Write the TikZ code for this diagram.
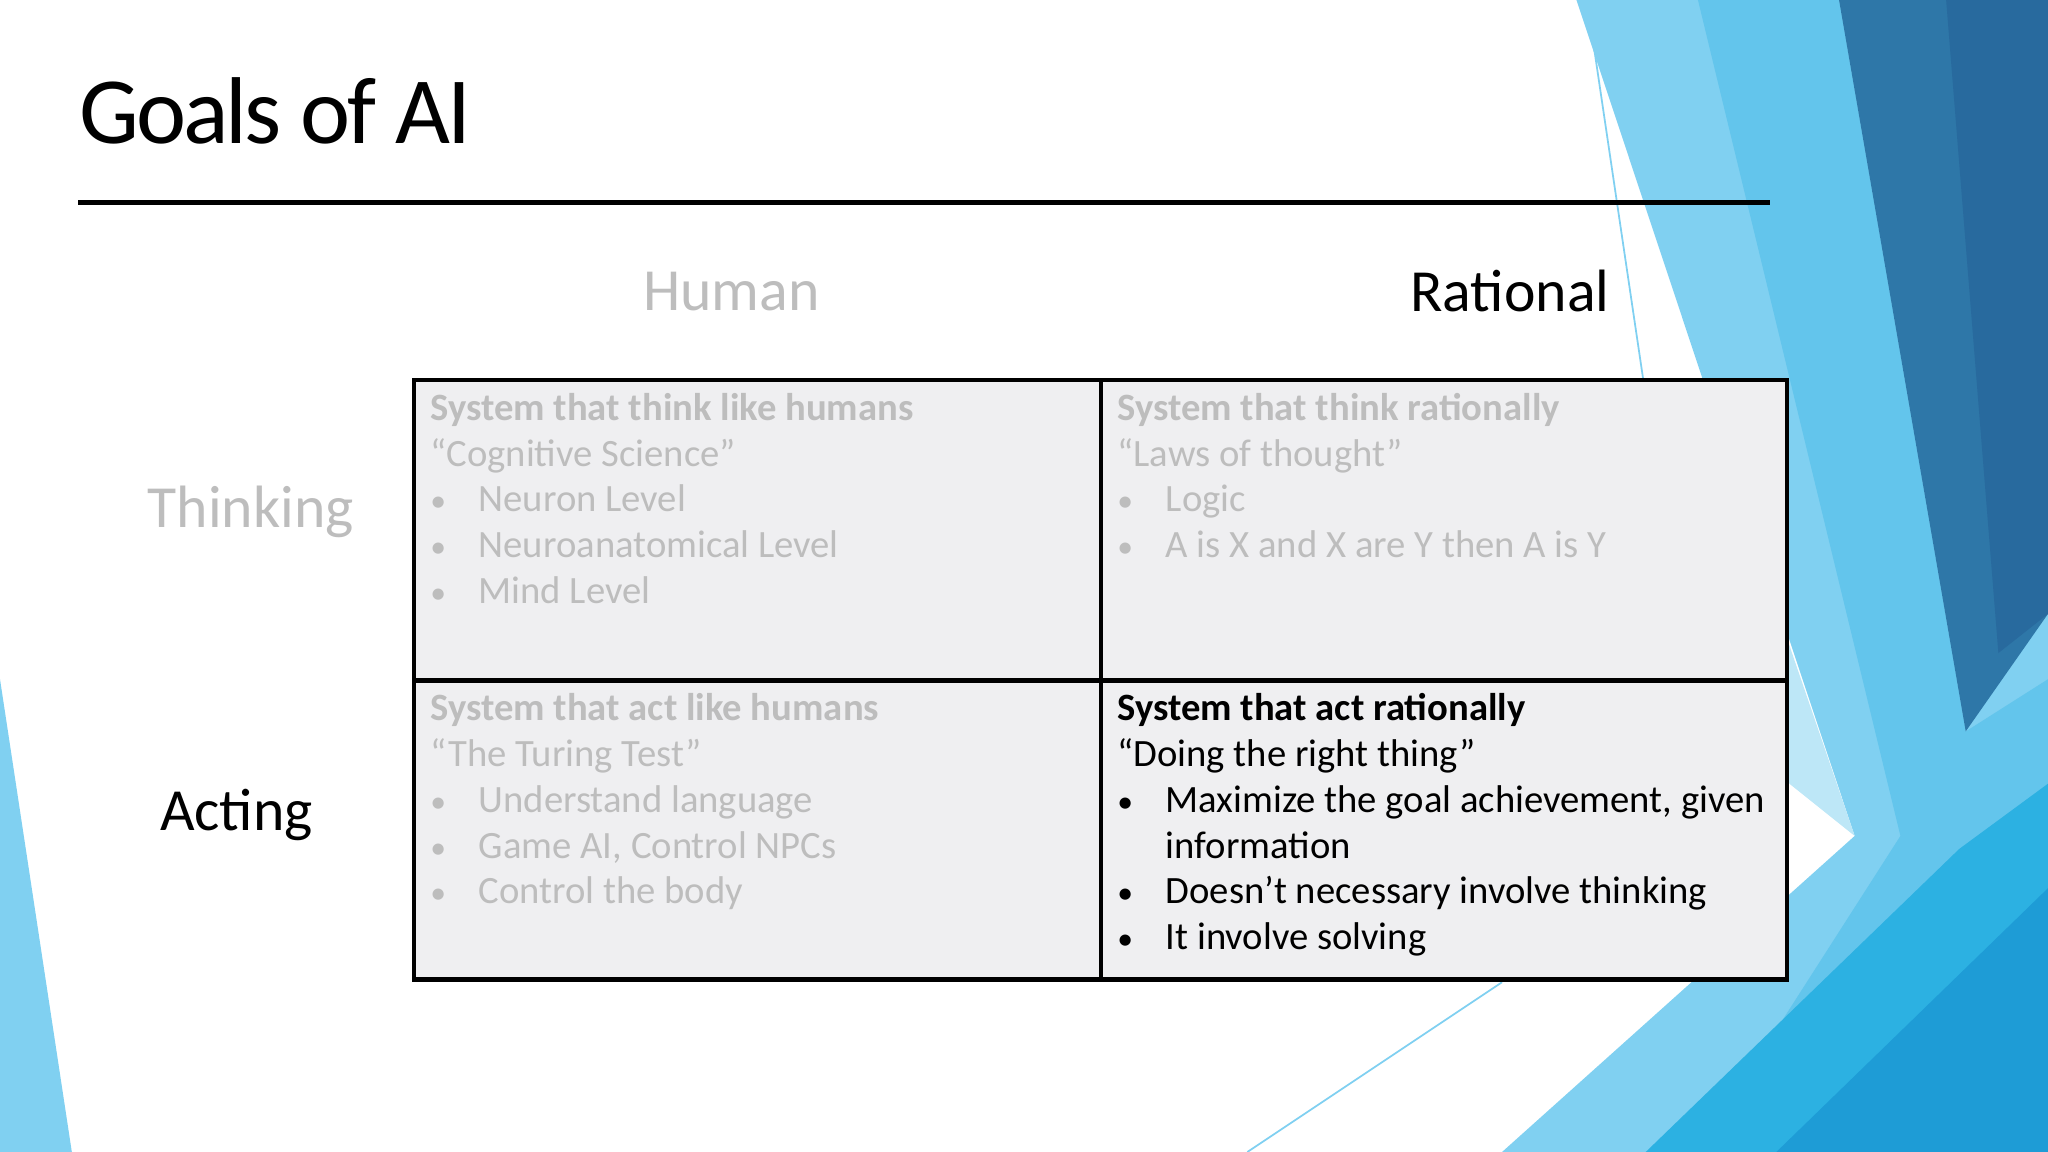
\documentclass[tikz,border=0pt]{standalone}
\usepackage{fontspec}
\setmainfont{Carlito}
\begin{document}
\begin{tikzpicture}[x=0.01306cm,y=-0.01306cm,
  cell/.style={draw=black,line width=1.2pt,fill=cellbg},
  body/.style={anchor=base west,inner sep=0pt,font=\fontsize{11}{13}\selectfont},
  hdr/.style={inner sep=0pt,font=\fontsize{17}{20}\selectfont},
  dim/.style={text=dimgray}]
\definecolor{cellbg}{HTML}{EFEFF1}
\definecolor{dimgray}{HTML}{BDBDBD}
\definecolor{skyA}{HTML}{80D0F1}
\definecolor{skyB}{HTML}{63C5EC}
\definecolor{skyC}{HTML}{2CB1E2}
\definecolor{skyD}{HTML}{1E9CD6}
\definecolor{navyA}{HTML}{2E77A8}
\definecolor{navyB}{HTML}{286A9E}
\definecolor{paleS}{HTML}{BDE7F7}
\newcommand{\bul}{{\small •}}
\useasboundingbox (0,0) rectangle (1568,882);
\fill[white] (0,0) rectangle (1568,882);
% decoration right
\fill[skyA] (1207,0) -- (1568,0) -- (1568,882) -- (1150,882) -- (1420,640) -- cycle;
\fill[paleS] (1300,290) -- (1420,640) -- (1370,600) -- cycle;
\fill[skyB] (1300,0) -- (1408,0) -- (1505,560) -- (1568,520) -- (1568,882) -- (1300,882) -- (1455,640) -- cycle;
\fill[navyA] (1408,0) -- (1568,0) -- (1568,470) -- (1505,560) -- cycle;
\fill[navyB] (1490,0) -- (1568,0) -- (1568,470) -- (1530,500) -- cycle;
\fill[skyC] (1260,882) -- (1500,650) -- (1568,600) -- (1568,882) -- cycle;
\fill[skyD] (1360,882) -- (1568,680) -- (1568,882) -- cycle;
\draw[skyA,line width=0.5pt] (1215,0) -- (1258,290);
\draw[skyA,line width=0.5pt] (955,882) -- (1150,752);
% left bottom
\fill[skyA] (0,520) -- (55,882) -- (0,882) -- cycle;
% title
\node[anchor=base west,inner sep=0pt,font=\fontsize{27}{32}\selectfont\addfontfeatures{LetterSpace=-3}] (title) at (60,110) {Goals of AI};
\draw[line width=1.6pt] (60,155) coordinate (r1) -- (1355,155) coordinate (r2);
% headers
\node[hdr,dim] (human) at (560,223) {Human};
\node[hdr] (rational) at (1156,223) {Rational};
\node[hdr,dim] (thinking) at (192,392) {Thinking};
\node[hdr] (acting) at (181,624) {Acting};
% table
\path[cell] (317,291) rectangle (843,521);
\path[cell] (843,291) rectangle (1368,521);
\path[cell] (317,521) rectangle (843,750);
\path[cell] (843,521) rectangle (1368,750);
\draw[line width=1.2pt] (317,291) rectangle (1368,750);
% cell 1
\begin{scope}[every node/.style={body,dim}]
\node (a1) at (329,322) {\textbf{System that think like humans}};
\node (a2) at (329,357) {“Cognitive Science”};
\node at (329,392) {\bul}; \node (a3) at (366,392) {Neuron Level};
\node at (329,427) {\bul}; \node (a4) at (366,427) {Neuroanatomical Level};
\node at (329,462) {\bul}; \node (a5) at (366,462) {Mind Level};
\node (b1) at (855,322) {\textbf{System that think rationally}};
\node (b2) at (855,357) {“Laws of thought”};
\node at (855,392) {\bul}; \node (b3) at (892,392) {Logic};
\node at (855,427) {\bul}; \node (b4) at (892,427) {A is X and X are Y then A is Y};
\node (c1) at (329,552) {\textbf{System that act like humans}};
\node (c2) at (329,587) {“The Turing Test”};
\node at (329,622) {\bul}; \node (c3) at (366,622) {Understand language};
\node at (329,657) {\bul}; \node (c4) at (366,657) {Game AI, Control NPCs};
\node at (329,692) {\bul}; \node (c5) at (366,692) {Control the body};
\end{scope}
\begin{scope}[every node/.style={body}]
\node (d1) at (855,552) {\textbf{System that act rationally}};
\node (d2) at (855,587) {“Doing the right thing”};
\node at (855,622) {\bul}; \node (d3) at (892,622) {Maximize the goal achievement, given};
\node (d4) at (892,657) {information};
\node at (855,692) {\bul}; \node (d5) at (892,692) {Doesn’t necessary involve thinking};
\node at (855,727) {\bul}; \node (d6) at (892,727) {It involve solving};
\end{scope}
\end{tikzpicture}
\end{document}
